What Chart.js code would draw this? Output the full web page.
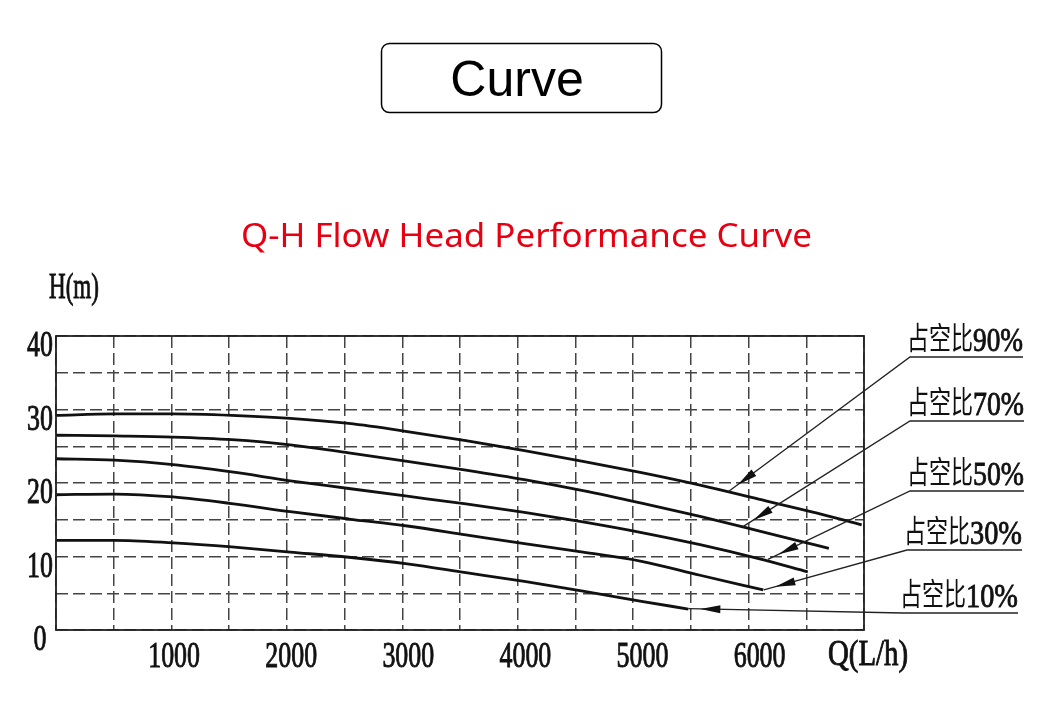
<!DOCTYPE html>
<html>
<head>
<meta charset="utf-8">
<script src="https://cdn.jsdelivr.net/npm/chart.js@4.4.1/dist/chart.umd.min.js"></script>
<style>
  html, body { margin: 0; padding: 0; background: #fff; }
  canvas { display: block; }
</style>
</head>
<body>
<canvas id="chart" width="1060" height="706"></canvas>
<script>
// Q-H curves, flow Q in L/h, head H in m
const q90 = [0, 500, 1000, 1500, 2000, 2500, 3000, 3500, 4000, 4500, 5000, 5500, 6000, 6500, 6880];
const h90 = [29.2, 29.4, 29.4, 29.2, 28.8, 28.1, 27.0, 25.75, 24.4, 22.95, 21.4, 19.7, 17.8, 15.9, 14.3];
const q70 = [0, 500, 1000, 1500, 2000, 2500, 3000, 3500, 4000, 4500, 5000, 5500, 6000, 6500, 6600];
const h70 = [26.5, 26.4, 26.25, 25.9, 25.2, 24.1, 22.95, 21.75, 20.45, 18.95, 17.25, 15.45, 13.5, 11.5, 11.1];
const q50 = [0, 500, 1000, 1500, 2000, 2500, 3000, 3500, 4000, 4500, 5000, 5500, 6000, 6420];
const h50 = [23.3, 23.1, 22.5, 21.5, 20.3, 19.25, 18.2, 17.15, 16.0, 14.7, 13.25, 11.6, 9.7, 7.9];
const q30 = [0, 500, 1000, 1500, 2000, 2500, 3000, 3500, 4000, 4500, 5000, 5500, 6040];
const h30 = [18.4, 18.5, 18.1, 17.2, 16.1, 15.1, 14.15, 12.95, 11.75, 10.6, 9.35, 7.45, 5.45];
const q10 = [0, 500, 1000, 1500, 2000, 2500, 3000, 3500, 4000, 4500, 5000, 5400];
const h10 = [12.2, 12.2, 11.85, 11.3, 10.6, 9.9, 9.0, 7.8, 6.6, 5.3, 3.9, 2.85];

// callout labels and the point on each curve their arrow touches
const ratioLabels = ['占空比90%', '占空比70%', '占空比50%', '占空比30%', '占空比10%'];
const tipQ = [5740, 5870, 6080, 6045, 5400];
const tipH = [18.8, 14.1, 9.6, 5.45, 2.9];

const xTickLabels = ['1000', '2000', '3000', '4000', '5000', '6000'];
const yTickLabels = ['0', '10', '20', '30', '40'];
const chartTitle = 'Q-H Flow Head Performance Curve';

const SERIF = "'Liberation Serif', 'DejaVu Serif', serif";
const CJK = "'Noto Sans CJK SC', 'Noto Sans', sans-serif";

const toPoints = (q, h) => q.map((v, i) => ({x: v, y: h[i]}));

// text squeezed horizontally; an optional thin stroke thickens the glyphs a bit
function drawScaled(ctx, text, x, y, font, sx, align, stroke) {
  ctx.save();
  ctx.font = font;
  ctx.textAlign = align || 'left';
  ctx.textBaseline = 'alphabetic';
  ctx.translate(x, y);
  ctx.scale(sx, 1);
  ctx.fillText(text, 0, 0);
  if (stroke) {
    ctx.strokeStyle = ctx.fillStyle;
    ctx.lineWidth = stroke;
    ctx.strokeText(text, 0, 0);
  }
  ctx.restore();
}

function drawFit(ctx, text, x, y, font, width, align, stroke) {
  ctx.font = font;
  const w = ctx.measureText(text).width;
  drawScaled(ctx, text, x, y, font, width / w, align, stroke);
}

const decor = {
  id: 'decor',
  beforeDraw(chart) {
    const ctx = chart.ctx;
    ctx.save();
    ctx.fillStyle = '#fff';
    ctx.fillRect(0, 0, chart.width, chart.height);
    ctx.restore();
  },
  afterDraw(chart) {
    const {ctx, chartArea: a} = chart;
    const xs = chart.scales.x, ys = chart.scales.y;
    ctx.save();

    // plot frame
    ctx.strokeStyle = '#222';
    ctx.lineWidth = 1.8;
    ctx.strokeRect(a.left, a.top, a.right - a.left, a.bottom - a.top);

    // heading box
    ctx.strokeStyle = '#000';
    ctx.lineWidth = 1.5;
    ctx.beginPath();
    ctx.roundRect(381.5, 43.5, 280, 69, 8);
    ctx.stroke();
    ctx.fillStyle = '#000';
    ctx.font = "50px 'Liberation Sans', Arial, sans-serif";
    ctx.textAlign = 'center';
    ctx.textBaseline = 'alphabetic';
    ctx.fillText('Curve', 517, 96);

    // red title
    ctx.fillStyle = '#e60012';
    drawFit(ctx, chartTitle, 526.5, 247, "33px 'Noto Sans', sans-serif", 571, 'center');

    // axis titles and tick labels (narrow serif like the drawing)
    ctx.fillStyle = '#111';
    const tickFont = '35px ' + SERIF;
    drawFit(ctx, 'H(m)', 49, 298, '35px ' + SERIF, 50, 'left', 0.9);
    drawFit(ctx, 'Q(L/h)', 828, 665, '35px ' + SERIF, 80, 'left', 0.9);
    xTickLabels.forEach(t => {
      drawScaled(ctx, t, xs.getPixelForValue(+t) + 1, a.bottom + 37, tickFont, 0.74, 'center', 0.9);
    });
    yTickLabels.forEach(t => {
      drawScaled(ctx, t, 40, ys.getPixelForValue(+t) + 20, tickFont, 0.74, 'center', 0.9);
    });

    // callouts: leader line, arrow head, underlined label
    const anchors = [[910, 357, 1023], [910, 421, 1024], [910, 491, 1024], [907, 550, 1022], [903, 613, 1018]];
    ratioLabels.forEach((label, i) => {
      const tx = xs.getPixelForValue(tipQ[i]);
      const ty = ys.getPixelForValue(tipH[i]);
      const [ax, ay, ex] = anchors[i];
      ctx.strokeStyle = '#222';
      ctx.lineWidth = 1.3;
      ctx.beginPath();
      ctx.moveTo(tx, ty);
      ctx.lineTo(ax, ay);
      ctx.lineTo(ex, ay);
      ctx.stroke();

      const len = Math.hypot(ax - tx, ay - ty);
      const ux = (ax - tx) / len, uy = (ay - ty) / len;
      const px = tx + ux * 12, py = ty + uy * 12;
      const bx = tx + ux * 32, by = ty + uy * 32;
      ctx.fillStyle = '#111';
      ctx.beginPath();
      ctx.moveTo(px, py);
      ctx.lineTo(bx - uy * 4, by + ux * 4);
      ctx.lineTo(bx + uy * 4, by - ux * 4);
      ctx.closePath();
      ctx.fill();

      const cjk = label.slice(0, 3), num = label.slice(3);
      drawScaled(ctx, cjk, ax - 3, ay - 8, '31px ' + CJK, 0.71, 'left');
      ctx.font = '34px ' + SERIF;
      const nw = ctx.measureText(num).width;
      drawScaled(ctx, num, ax + 63, ay - 6, '34px ' + SERIF, (ex - (ax + 63)) / nw, 'left', 0.9);
    });

    ctx.restore();
  }
};

const curveStyle = {
  borderColor: '#111',
  borderWidth: 2.8,
  pointRadius: 0,
  fill: false,
  cubicInterpolationMode: 'monotone'
};

new Chart(document.getElementById('chart'), {
  type: 'line',
  data: {
    datasets: [
      {label: '占空比90%', data: toPoints(q90, h90), ...curveStyle},
      {label: '占空比70%', data: toPoints(q70, h70), ...curveStyle},
      {label: '占空比50%', data: toPoints(q50, h50), ...curveStyle},
      {label: '占空比30%', data: toPoints(q30, h30), ...curveStyle},
      {label: '占空比10%', data: toPoints(q10, h10), ...curveStyle}
    ]
  },
  options: {
    responsive: false,
    animation: false,
    devicePixelRatio: 1,
    layout: {
      padding: {left: 0, top: 336, right: 196, bottom: 36}
    },
    plugins: {
      legend: {display: false},
      title: {display: false},
      tooltip: {enabled: false}
    },
    scales: {
      x: {
        type: 'linear',
        min: 0,
        max: 6900,
        ticks: {display: false, stepSize: 500, includeBounds: false},
        grid: {color: '#444', lineWidth: 1.5, drawTicks: false},
        border: {display: false, dash: [12, 5]},
        afterFit(scale) { scale.height = 40; }
      },
      y: {
        min: 0,
        max: 40,
        ticks: {display: false, stepSize: 5},
        grid: {color: '#444', lineWidth: 1.5, drawTicks: false},
        border: {display: false, dash: [12, 5]},
        afterFit(scale) { scale.width = 56; }
      }
    }
  },
  plugins: [decor]
});
</script>
</body>
</html>
